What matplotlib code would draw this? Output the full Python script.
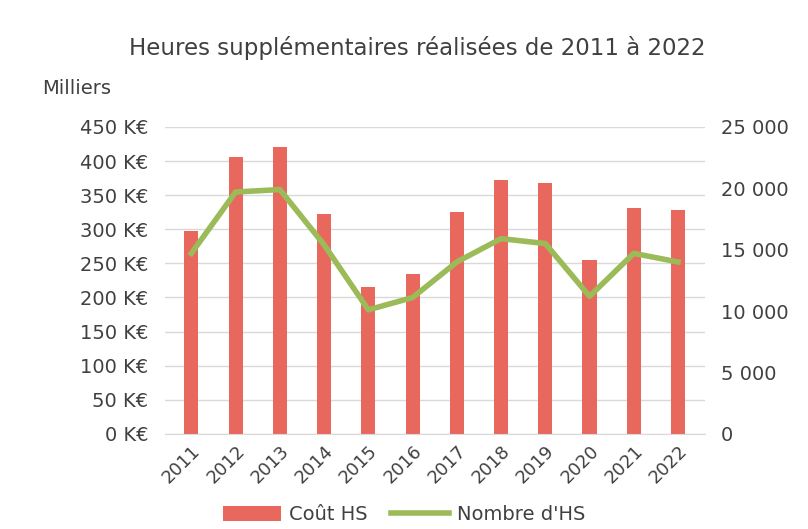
import matplotlib
matplotlib.use("Agg")
import matplotlib.pyplot as plt
from matplotlib.ticker import FuncFormatter

years = ["2011", "2012", "2013", "2014", "2015", "2016",
         "2017", "2018", "2019", "2020", "2021", "2022"]
cout_hs = [297, 406, 421, 322, 216, 235, 326, 372, 368, 255, 331, 328]
nombre_hs = [14700, 19700, 19900, 15400, 10100, 11100,
             14000, 15900, 15500, 11200, 14700, 14000]

plt.rcParams["font.family"] = ["DejaVu Sans"]

fig = plt.figure(figsize=(8.08, 5.29), dpi=100)
ax = fig.add_axes([0.204, 0.180, 0.668, 0.580])
ax2 = ax.twinx()

x = list(range(len(years)))
bars = ax.bar(x, cout_hs, width=0.32, color="#E8685E", zorder=2, label="Coût HS")
line, = ax2.plot(x, nombre_hs, color="#9BBB59", linewidth=4, zorder=3,
                 label="Nombre d'HS")

ax.set_ylim(0, 450)
ax.set_yticks(range(0, 451, 50))
ax.yaxis.set_major_formatter(FuncFormatter(lambda v, p: f"{int(v)} K€"))
ax2.set_ylim(0, 25000)
ax2.set_yticks(range(0, 25001, 5000))
ax2.yaxis.set_major_formatter(
    FuncFormatter(lambda v, p: f"{int(v):,}".replace(",", " ")))

ax.set_xlim(-0.6, len(years) - 0.4)
ax.set_xticks(x)
ax.set_xticklabels(years, rotation=45, ha="right", rotation_mode="anchor")
ax.grid(axis="y", color="#D9D9D9", linewidth=1, zorder=0)
ax.set_axisbelow(True)

for a in (ax, ax2):
    for s in a.spines.values():
        s.set_visible(False)
    a.tick_params(length=0, labelsize=14, colors="#404040")
ax.spines["bottom"].set_visible(True)
ax.spines["bottom"].set_color("#D9D9D9")
ax.tick_params(axis="y", pad=12)
ax2.tick_params(axis="y", pad=12)
ax.tick_params(axis="x", pad=6, labelsize=13)

fig.text(0.516, 0.91, "Heures supplémentaires réalisées de 2011 à 2022",
         ha="center", va="center", fontsize=16.5, color="#404040")
fig.text(0.052, 0.832, "Milliers", ha="left", va="center",
         fontsize=14, color="#404040")

fig.legend([bars, line], ["Coût HS", "Nombre d'HS"], loc="center",
           bbox_to_anchor=(0.5, 0.027), ncol=2, frameon=False, fontsize=14,
           handlelength=3.0, handleheight=0.8, columnspacing=1.2,
           handletextpad=0.4, labelcolor="#404040")

fig.savefig("out.png", dpi=100)
